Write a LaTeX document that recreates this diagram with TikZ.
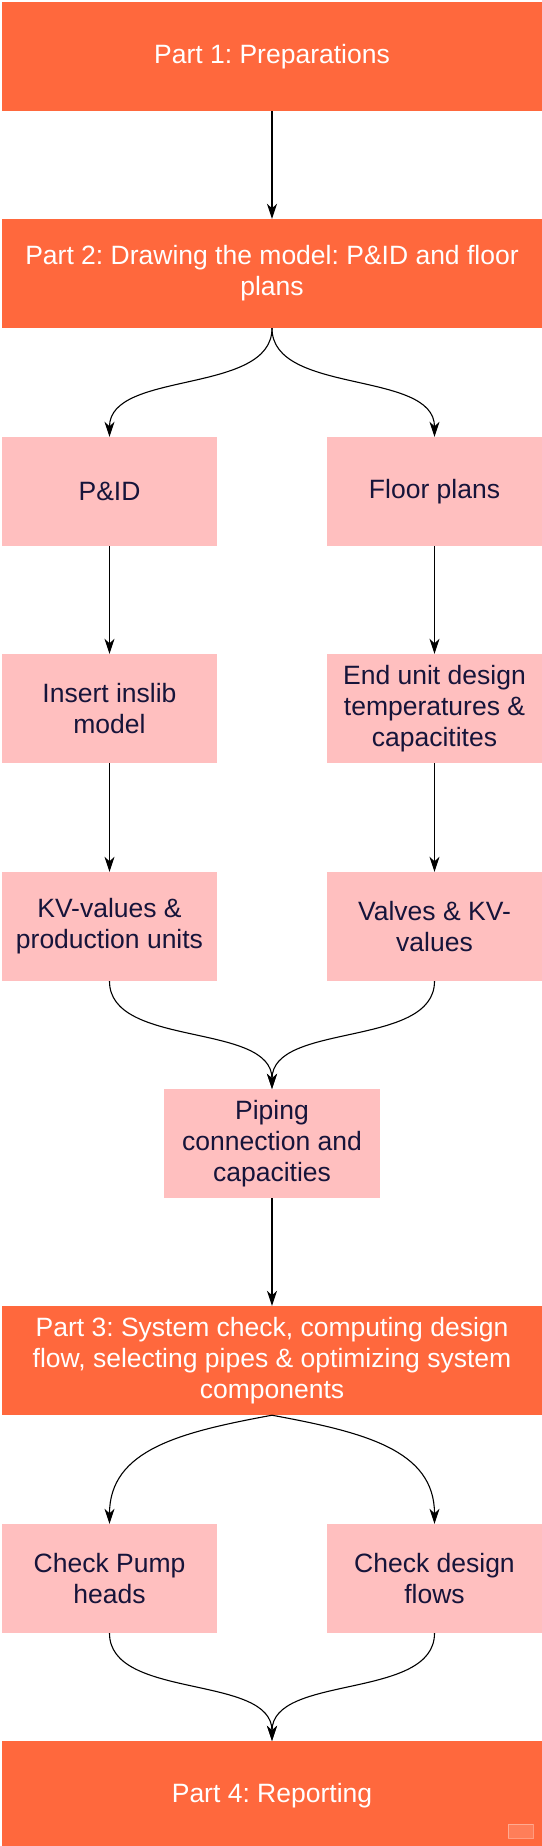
\documentclass[tikz,border=0pt]{standalone}
\usepackage{fontspec}
\setmainfont{Liberation Sans}
\frenchspacing
\usetikzlibrary{arrows.meta}
\definecolor{partorange}{RGB}{255,104,61}
\definecolor{steppink}{RGB}{255,191,191}
\definecolor{steptext}{RGB}{22,20,58}
\tikzset{
  box/.style={rectangle, draw=none, inner sep=0pt, align=center,
    font=\fontsize{26.5}{31}\selectfont},
  partbox/.style={box, fill=partorange, text=white, minimum width=540pt, minimum height=109pt},
  stepbox/.style={box, fill=steppink, text=steptext, minimum width=215pt, minimum height=109pt},
  conn/.style={draw=black, line width=1.1pt, -{Stealth[length=15pt,width=10pt,inset=4.5pt]}}
}
\begin{document}
\begin{tikzpicture}[x=1pt,y=-1pt]
\useasboundingbox (0,0) rectangle (541,1846);
\fill[white] (0,0) rectangle (541,1846);

\node[partbox] (p1) at (272,56.5) {Part 1: Preparations};
\node[partbox] (p2) at (272,273.5) {Part 2: Drawing the model: P\&ID and floor\\plans};
\node[stepbox] (pid) at (109.5,491.5) {P\&ID};
\node[stepbox] (floor) at (434.5,491.5) {Floor plans};
\node[stepbox] (insert) at (109.5,708.5) {Insert inslib\\model};
\node[stepbox] (endunit) at (434.5,708.5) {End unit design\\temperatures \&\\capacitites};
\node[stepbox] (kv) at (109.5,926.5) {KV-values \&\\production units};
\node[stepbox] (valves) at (434.5,926.5) {Valves \& KV-\\values};
\node[stepbox, minimum width=216pt] (piping) at (272,1143.5) {Piping\\connection and\\capacities};
\node[partbox] (p3) at (272,1360.5) {Part 3: System check, computing design\\flow, selecting pipes \& optimizing system\\components};
\node[stepbox] (pump) at (109.5,1578.5) {Check Pump\\heads};
\node[stepbox] (flows) at (434.5,1578.5) {Check design\\flows};
\node[partbox] (p4) at (272,1795.5) {Part 4: Reporting};

% watermark
\node[draw=white, draw opacity=0.35, fill=white, fill opacity=0.15, minimum width=25pt, minimum height=14pt, inner sep=0pt] (wm) at (520.5,1831) {};

% straight connectors
\draw[conn] (p1.south) -- (p2.north);
\draw[conn] (pid.south) -- (insert.north);
\draw[conn] (insert.south) -- (kv.north);
\draw[conn] (floor.south) -- (endunit.north);
\draw[conn] (endunit.south) -- (valves.north);
\draw[conn] (piping.south) -- (p3.north);

% split curves
\draw[conn] (p2.south) .. controls ([yshift=-67pt]p2.south) and ([yshift=67pt]pid.north) .. (pid.north);
\draw[conn] (p2.south) .. controls ([yshift=-67pt]p2.south) and ([yshift=67pt]floor.north) .. (floor.north);
% merge curves
\draw[conn] (kv.south) .. controls ([yshift=-67pt]kv.south) and ([yshift=67pt]piping.north) .. (piping.north);
\draw[conn] (valves.south) .. controls ([yshift=-67pt]valves.south) and ([yshift=67pt]piping.north) .. (piping.north);
% part 3 split
\draw[conn] (p3.south) .. controls ([xshift=-92pt,yshift=-17pt]p3.south) and ([yshift=74pt]pump.north) .. (pump.north);
\draw[conn] (p3.south) .. controls ([xshift=92pt,yshift=-17pt]p3.south) and ([yshift=74pt]flows.north) .. (flows.north);
% merge into part 4
\draw[conn] (pump.south) .. controls ([yshift=-67pt]pump.south) and ([yshift=67pt]p4.north) .. (p4.north);
\draw[conn] (flows.south) .. controls ([yshift=-67pt]flows.south) and ([yshift=67pt]p4.north) .. (p4.north);
\end{tikzpicture}
\end{document}
